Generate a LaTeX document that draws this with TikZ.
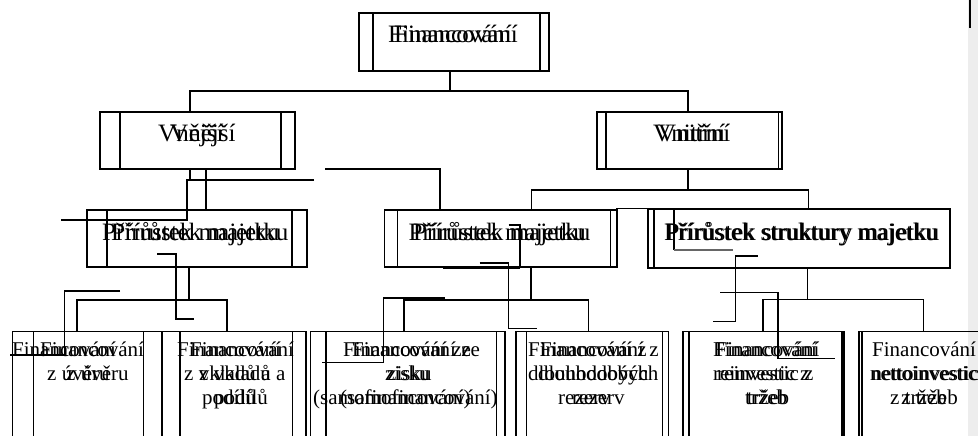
\documentclass[tikz,border=0pt]{standalone}
\usepackage{fontspec}
\setmainfont{Liberation Serif}
\begin{document}
\begin{tikzpicture}[x=1pt,y=-1pt,
  ln/.style={line width=1.2pt},
  thk/.style={line width=2pt},
  big/.style={font=\fontsize{25}{30}\selectfont, inner sep=0pt, anchor=base west},
  sm/.style={font=\fontsize{21}{24}\selectfont, inner sep=0pt, anchor=base west}]
\useasboundingbox (0,0) rectangle (978,436);
\fill[white] (0,0) rectangle (978,436);
\fill[black!7] (968,0) rectangle (978,436);
\draw[thk] (970,0) -- (970,28);

% ---- top box
\draw[ln] (359,13) rectangle (549,71);
\draw[ln] (373,13) rectangle (540,71);
\node[big] (topA) at (388,43) {Financování};
\node[big] (topB) at (394,43) {Financování};

% ---- level 1 connectors
\draw[ln] (450,71) -- (450,91);
\draw[ln] (190,112) |- (688,91) -- (688,112);

% ---- Vnejsi
\draw[ln] (100,112) rectangle (295,169);
\draw[ln] (120,112) rectangle (281,169);
\node[big] (vnejA) at (158,141.5) {Vnější};
\node[big] (vnejB) at (170,141.5) {Vnější};

% ---- Vnitrni
\draw[ln] (597,112) rectangle (782,169);
\draw[ln] (606,112) rectangle (778.5,169);
\node[big] (vnitA) at (653,141) {Vnitřní};
\node[big] (vnitB) at (658,141) {Vnitřní};

% ---- connectors under Vnejsi
\draw[ln] (190,169) -- (190,180);
\draw[ln] (314,180) -- (187,180) -- (187,220) -- (61,220);
\draw[ln] (206,169) -- (206,210);
\draw[ln] (325,169) -- (440,169) -- (440,210);

% ---- connectors under Vnitrni
\draw[ln] (688,169) -- (688,190);
\draw[ln] (531.5,210) |- (808.5,190) -- (808.5,210);

% ---- Prirustek majetku (left)
\draw[ln] (87,210) rectangle (307,267);
\draw[ln] (107,210) rectangle (292,267);
\node[big] (pmlA) at (102,240) {Přírůstek majetku};
\node[big] (pmlB) at (111,240) {Přírůstek majetku};
\draw[ln] (157,254) -- (176,254) -- (176,319) -- (194,319);
\draw[ln] (189,267) -- (189,300);
\draw[ln] (77,332) |- (227,300) -- (227,332);
\draw[ln] (120,291) -- (64.5,291) -- (64.5,355) -- (10,355);

% ---- Prirustek majetku (middle)
\draw[ln] (384.6,210) rectangle (617,267);
\draw[ln] (397.7,210) rectangle (610.4,267);
\node[big] (pmmA) at (408.5,240) {Přírůstek majetku};
\node[big] (pmmB) at (413,240) {Přírůstek majetku};
\draw[ln] (508.5,225) -- (520,225) -- (520,267);
\draw[ln] (479.5,263) -- (508.5,263) -- (508.5,328.5) -- (537,328.5);
\draw[thk] (443,267.5) -- (520,267.5);
\draw[ln] (531,267) -- (531,300);
\draw[ln] (404,332) |- (588.5,300) -- (588.5,332);
\draw[thk] (445,297.5) -- (383.3,297.5);
\draw[ln] (383.3,297.5) -- (383.3,362.7) -- (321.7,362.7);
\draw[ln] (616,208.3) -- (674,208.3) -- (674,250);
\draw[ln, black!60] (674,250) -- (733,250);

% ---- Prirustek struktury majetku
\draw[thk] (648,209.3) rectangle (950,267.5);
\draw[ln] (654,209.3) -- (654,267.5);
\node[big] (psA) at (664,240) {Přírůstek struktury majetku};
\node[big] (psB) at (665.5,240) {Přírůstek struktury majetku};
\draw[ln] (757.7,256) -- (735.4,256) -- (735.4,321.7) -- (712.7,321.7);
\draw[ln] (807.5,267.5) -- (807.5,299.3);
\draw[ln] (763,332) |- (923.5,299.3) -- (923.5,332);
\draw[ln] (720,292.7) -- (778,292.7) -- (778,358.3) -- (835,358.3);

% ---- bottom boxes
\draw[ln] (12.3,440) |- (162,331.7) -- (162,440);
\draw[ln] (33.3,440) |- (143.3,331.7) -- (143.3,440);
\draw[ln] (162.3,440) |- (306,331.7) -- (306,440);
\draw[ln] (180,440) |- (292.7,331.7) -- (292.7,440);
\draw[ln] (310.5,440) |- (505,331.7) -- (505,440);
\draw[ln] (326,440) |- (496.7,331.7) -- (496.7,440);
\draw[ln] (516,440) |- (668.3,331.7) -- (668.3,440);
\draw[ln] (526.7,440) |- (662.7,331.7) -- (662.7,440);
\draw[ln] (683,440) |- (844,331.7) -- (844,440);
\draw[ln] (689,440) |- (842,331.7) -- (842,440);
\draw[ln] (859,440) |- (980,331.7);
\draw[ln] (862,440) |- (980,331.7);

% box 1
\node[sm] (b1a) at (12,356.5) {Financování};
\node[sm] (b1b) at (40,356.5) {Financování};
\node[sm] (b1c) at (47,380.5) {z úvěru};
\node[sm] (b1d) at (66,380.5) {z úvěru};
% box 2
\node[sm] (b2a) at (177,356.5) {Financování};
\node[sm] (b2b) at (190,356.5) {Financování};
\node[sm] (b2c) at (184,380.5) {z vkladů a};
\node[sm] (b2d) at (199,380.5) {z vkladů a};
\node[sm] (b2e) at (202,404.5) {podílů};
\node[sm] (b2f) at (214,404.5) {podílů};
% box 3
\node[sm] (b3a) at (343,356.5) {Financování ze};
\node[sm] (b3b) at (352,356.5) {Financování ze};
\node[sm] (b3c) at (385,380.5) {zisku};
\node[sm] (b3d) at (387,380.5) {zisku};
\node[sm] (b3e) at (313,404.5) {(samofinancování)};
\node[sm] (b3f) at (340,404.5) {(samofinancování)};
% box 4
\node[sm] (b4a) at (528,356.5) {Financování z};
\node[sm] (b4b) at (540,356.5) {Financování z};
\node[sm] (b4c) at (528,380.5) {dlouhodobých};
\node[sm] (b4d) at (538,380.5) {dlouhodobých};
\node[sm] (b4e) at (558,404.5) {rezerv};
\node[sm] (b4f) at (572,404.5) {rezerv};
% box 5
\node[sm] (b5a) at (713,356.5) {Financování};
\node[sm] (b5b) at (715.5,356.5) {Financování};
\node[sm] (b5c) at (713,380.5) {reinvestic z};
\node[sm] (b5d) at (717,380.5) {reinvestic z};
\node[sm] (b5e) at (745,404.5) {tržeb};
\node[sm] (b5f) at (747,404.5) {tržeb};
% box 6
\node[sm] (b6a) at (872,356.5) {Financování};
\node[sm] (b6c) at (870,380.5) {nettoinvestic};
\node[sm] (b6d) at (871.5,380.5) {nettoinvestic};
\node[sm] (b6e) at (890,404.5) {z tržeb};
\node[sm] (b6f) at (901,404.5) {z tržeb};
\end{tikzpicture}
\end{document}
